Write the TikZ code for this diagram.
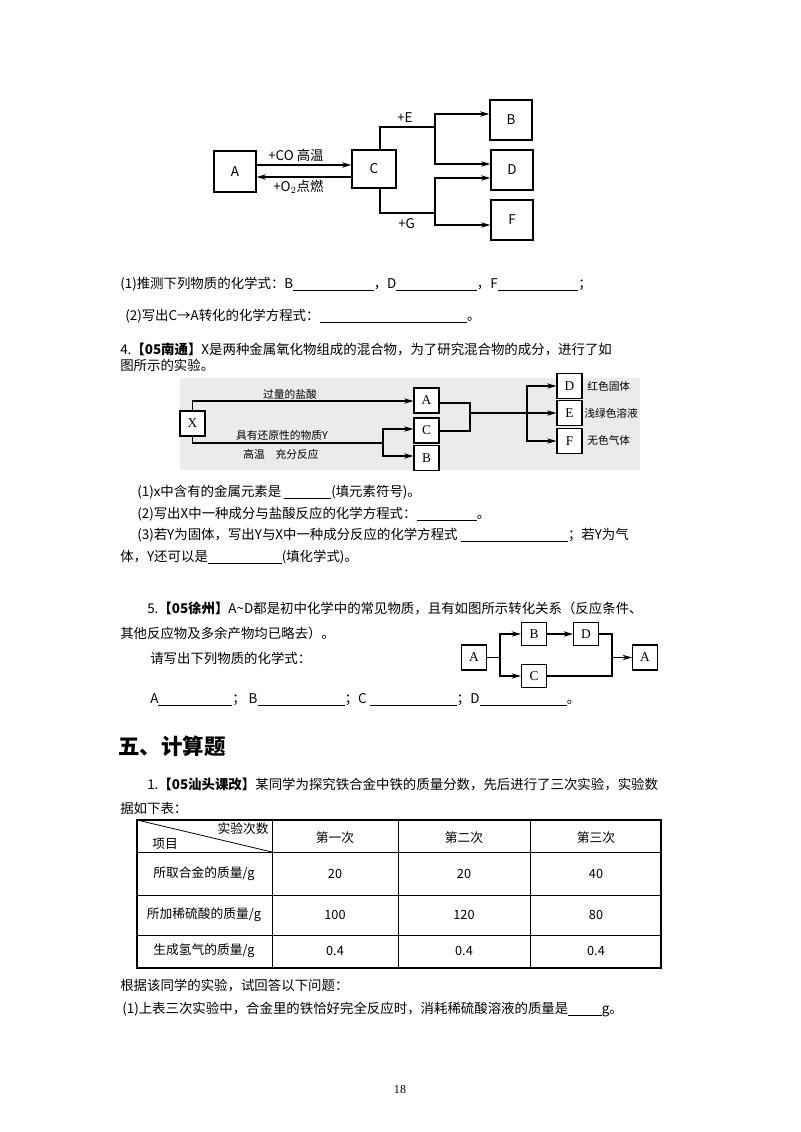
\documentclass[tikz,border=0pt]{standalone}
\usepackage{fontspec}
\setmainfont{Noto Sans CJK SC}
\newfontfamily\bodyserif{Liberation Serif}
\usetikzlibrary{arrows.meta}
\newcommand{\blank}[1]{\underline{\hspace{#1}}}
\begin{document}
\begin{tikzpicture}[x=0.745pt,y=-0.745pt,
 txt/.style={anchor=west,inner sep=0pt,font=\fontsize{10}{12}\selectfont},
 bx/.style={draw,line width=1pt,minimum width=#1*0.745pt,inner sep=0pt,font=\fontsize{10}{12}\selectfont},
 ln/.style={line width=0.8pt},
 arr/.style={line width=0.8pt,-{Stealth[length=7pt,width=4pt]}}]
\useasboundingbox (0,0) rectangle (800,1132);
\fill[white] (0,0) rectangle (800,1132);
% ---------- diagram 1
\node[bx=42,minimum height=41*0.745pt] (A1) at (235,171.5) {A};
\node[bx=44,minimum height=38*0.745pt] (C1) at (374,169) {C};
\node[bx=42,minimum height=40*0.745pt] (B1) at (511,120) {B};
\node[bx=42,minimum height=40*0.745pt] (D1) at (512,170) {D};
\node[bx=42,minimum height=40*0.745pt] (F1) at (512,220) {F};
\draw[arr] (A1.east|-0,165) -- (C1.west|-0,165);
\draw[arr] (C1.west|-0,177) -- (A1.east|-0,177);
\node[txt] (l1) at (268,155) {+CO 高温};
\node[txt] (l2) at (273,187) {+O$_2$点燃};
\coordinate (j1) at (435,127); \coordinate (j2) at (435,213);
\draw[ln] (C1.north-|380,0) |- (j1);
\draw[ln] (C1.south-|380,0) |- (j2);
\draw[arr] (435,127) |- (B1.west|-0,114);
\draw[arr] (435,127) |- (D1.west|-0,164);
\draw[arr] (435,213) |- (D1.west|-0,178);
\draw[arr] (435,213) |- (F1.west|-0,225);
\node[txt] (le) at (397,118) {+E};
\node[txt] (lg) at (398,224) {+G};
% ---------- text
\node[txt] (t1) at (120,284) {(1)推测下列物质的化学式：B\blank{60pt}，D\blank{60pt}，F\blank{60pt}；};
\node[txt] (t2) at (125,316) {(2)写出C→A转化的化学方程式：\blank{110pt}。};
\node[txt] (t3) at (120,349) {4.\textbf{【05南通】}X是两种金属氧化物组成的混合物，为了研究混合物的成分，进行了如};
\node[txt] (t4) at (120,365) {图所示的实验。};
% ---------- diagram 2
\fill[black!8] (180,378) rectangle (640,470);
\tikzset{bx2/.style={draw,line width=0.8pt,fill=white,minimum width=25*0.745pt,minimum height=25*0.745pt,inner sep=0pt,font=\fontsize{10}{12}\selectfont\bodyserif}}
\node[bx2] (X) at (192.5,423.5) {X};
\node[bx2] (A2) at (426.5,400.5) {A};
\node[bx2] (C2) at (426.5,430.5) {C};
\node[bx2] (B2) at (426.5,458) {B};
\node[bx2] (D2) at (569.5,386) {D};
\node[bx2] (E2) at (569.5,413) {E};
\node[bx2] (F2) at (569.5,441) {F};
\draw[arr] (X.north) |- (A2.west|-0,401);
\draw[ln] (X.south) |- (383,443);
\draw[arr] (383,443) |- (C2.west|-0,429);
\draw[arr] (383,443) |- (B2.west|-0,456);
\draw[ln] (A2.east|-0,403) -- (470,403) -- (470,431) -- (C2.east|-0,431);
\draw[arr] (470,413) -- (E2.west);
\draw[arr] (527,413) |- (D2.west);
\draw[arr] (527,413) |- (F2.west);
\tikzset{sm/.style={anchor=center,inner sep=0pt,font=\fontsize{8}{10}\selectfont}}
\node[sm] (s1) at (290,394) {过量的盐酸};
\node[sm] (s2) at (282,435) {具有还原性的物质Y};
\node[sm] (s3) at (281,454) {高温\quad 充分反应};
\node[sm,anchor=west] (s4) at (587,386) {红色固体};
\node[sm,anchor=west] (s5) at (584,413) {浅绿色溶液};
\node[sm,anchor=west] (s6) at (587,440) {无色气体};
% ---------- text
\node[txt] (t5) at (137,492) {(1)x中含有的金属元素是\ \blank{35pt}(填元素符号)。};
\node[txt] (t6) at (137,514) {(2)写出X中一种成分与盐酸反应的化学方程式：\blank{45pt}。};
\node[txt] (t7) at (137,535) {(3)若Y为固体，写出Y与X中一种成分反应的化学方程式\ \blank{80pt}；若Y为气};
\node[txt] (t8) at (120,557) {体，Y还可以是\blank{55pt}(填化学式)。};
\node[txt] (t9) at (147,608) {5.\textbf{【05徐州】}A\textasciitilde D都是初中化学中的常见物质，且有如图所示转化关系（反应条件、};
\node[txt] (t10) at (120,633) {其他反应物及多余产物均已略去）。};
\node[txt] (t11) at (150,658) {请写出下列物质的化学式：};
\node[txt] (t12) at (150,700) {A\blank{55pt}；\ B\blank{65pt}；C\ \blank{65pt}；D\blank{65pt}。};
% ---------- diagram 3
\tikzset{bx3/.style={draw,line width=0.8pt,minimum width=25*0.745pt,minimum height=23*0.745pt,inner sep=0pt,font=\fontsize{10}{12}\selectfont\bodyserif}}
\node[bx3,minimum height=25*0.745pt] (A3) at (474,657.5) {A};
\node[bx3] (B3) at (534,634) {B};
\node[bx3] (D3) at (586,634) {D};
\node[bx3] (C3) at (534,676) {C};
\node[bx3,minimum height=25*0.745pt] (A4) at (645,657.5) {A};
\draw[ln] (A3.east) -- (500,657.5);
\draw[arr] (500,657.5) |- (B3.west);
\draw[arr] (500,657.5) |- (C3.west);
\draw[arr] (B3) -- (D3);
\draw[ln] (D3.east) -| (612,676) -- (C3.east);
\draw[arr] (612,657.5) -- (A4.west);
% ---------- section 5
\node[txt,font=\fontsize{16}{18}\selectfont\bfseries] (h) at (118,746) {五、计算题};
\node[txt] (t13) at (147,784) {1.\textbf{【05汕头课改】}某同学为探究铁合金中铁的质量分数，先后进行了三次实验，实验数};
\node[txt] (t14) at (120,808) {据如下表：};
% table
\draw[line width=0.8pt] (137,820) rectangle (661,968);
\foreach \yy in {852,895,935} \draw[line width=0.6pt] (137,\yy) -- (661,\yy);
\foreach \xx in {272,398,530} \draw[line width=0.6pt] (\xx,820) -- (\xx,968);
\draw[line width=0.6pt] (137,820) -- (272,852);
\tikzset{tc/.style={anchor=center,inner sep=0pt,font=\fontsize{9.5}{11}\selectfont}}
\node[tc] (h1) at (243,829) {实验次数};
\node[tc] (h2) at (165,844) {项目};
\node[tc] (h3) at (335,838) {第一次};
\node[tc] (h4) at (464,838) {第二次};
\node[tc] (h5) at (596,838) {第三次};
\node[tc] (r1) at (204,874) {所取合金的质量/g};
\node[tc] (r2) at (204,915) {所加稀硫酸的质量/g};
\node[tc] (r3) at (204,951) {生成氢气的质量/g};
\node[tc] (v11) at (335,874) {20};
\node[tc] (v12) at (464,874) {20};
\node[tc] (v13) at (596,874) {40};
\node[tc] (v21) at (335,915) {100};
\node[tc] (v22) at (464,915) {120};
\node[tc] (v23) at (596,915) {80};
\node[tc] (v31) at (335,951) {0.4};
\node[tc] (v32) at (464,951) {0.4};
\node[tc] (v33) at (596,951) {0.4};
\node[txt] (t15) at (120,986) {根据该同学的实验，试回答以下问题：};
\node[txt] (t16) at (122,1009) {(1)上表三次实验中，合金里的铁恰好完全反应时，消耗稀硫酸溶液的质量是\blank{25pt}g。};
\node[anchor=center,inner sep=0pt,font=\fontsize{9}{10}\selectfont\bodyserif] (pg) at (400,1090) {18};
\end{tikzpicture}
\end{document}
